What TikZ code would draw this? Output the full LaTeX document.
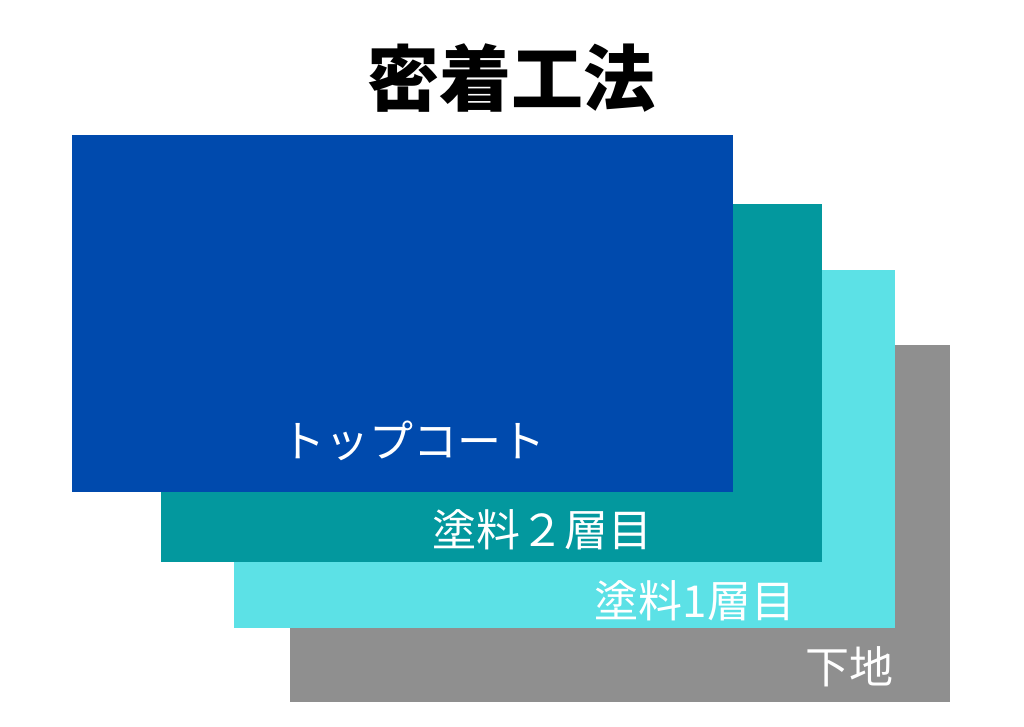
\documentclass[tikz,border=0pt]{standalone}
\usepackage{fontspec}
\setmainfont{Noto Sans CJK JP}
\newfontfamily\titlefont{Noto Sans CJK JP Black}
\definecolor{cblue}{HTML}{004AAD}
\definecolor{cteal}{HTML}{03989E}
\definecolor{ccyan}{HTML}{5CE1E6}
\definecolor{cgray}{HTML}{8F8F8F}
\tikzset{
  layer/.style={fill=#1, draw=none},
  lbl/.style={text=white, inner sep=0pt, anchor=base, font=\fontsize{44}{44}\selectfont},
}
\begin{document}
\begin{tikzpicture}[x=1pt,y=-1pt]
\useasboundingbox[fill=white] (0,0) rectangle (1024,726);
\node[inner sep=0pt, anchor=base, font=\titlefont\fontsize{72}{72}\selectfont] (title) at (511.5,105) {密着工法};
\path[layer=cgray] (290,345) rectangle (950,702);
\path[layer=ccyan] (234,270) rectangle (895,628);
\path[layer=cteal] (161,204) rectangle (822,562);
\path[layer=cblue] (72,135) rectangle (733,492);
\node[lbl] (top) at (413,457) {トップコート};
\node[lbl] (c2) at (542,546) {塗料２層目};
\node[lbl] (c1) at (695,617) {塗料1層目};
\node[lbl] (base) at (849,683) {下地};
\end{tikzpicture}
\end{document}
